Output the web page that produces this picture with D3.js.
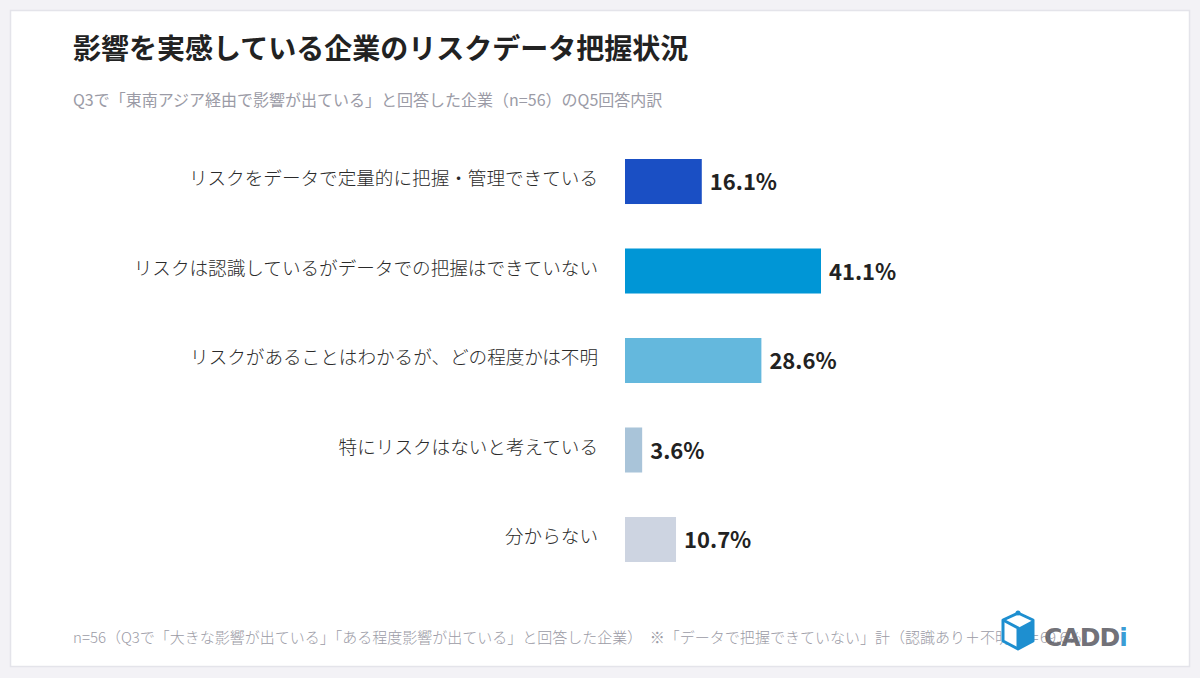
<!DOCTYPE html>
<html><head><meta charset="utf-8">
<script src="https://cdn.jsdelivr.net/npm/d3@7"></script>
<style>
html,body{margin:0;padding:0;background:#f3f2f6;}
svg{display:block;font-family:"Noto Sans CJK JP","Noto Sans",sans-serif;}
</style></head><body>
<svg id="c" width="1200" height="678"></svg>
<script>
const categories = [
  "リスクをデータで定量的に把握・管理できている",
  "リスクは認識しているがデータでの把握はできていない",
  "リスクがあることはわかるが、どの程度かは不明",
  "特にリスクはないと考えている",
  "分からない"
];
const values = [16.1, 41.1, 28.6, 3.6, 10.7];
const colors = ["#1a4fc4", "#0096d6", "#64b8dd", "#a9c4d9", "#cdd4e1"];
const title = "影響を実感している企業のリスクデータ把握状況";
const subtitle = "Q3で「東南アジア経由で影響が出ている」と回答した企業（n=56）のQ5回答内訳";
const footnote = "n=56（Q3で「大きな影響が出ている」「ある程度影響が出ている」と回答した企業）　※「データで把握できていない」計（認識あり＋不明）＝69.6%";

const svg = d3.select("#c");
svg.append("rect").attr("x",10.5).attr("y",10.5).attr("width",1179).attr("height",656)
  .attr("fill","#fff").attr("stroke","#e4e4ea").attr("stroke-width",1.5);

svg.append("text").attr("x",73).attr("y",59).attr("font-size",28).attr("font-weight",700)
  .attr("fill","#222").text(title);
svg.append("text").attr("x",73).attr("y",106).attr("font-size",16).attr("fill","#9b9ba6").text(subtitle);

const x = d3.scaleLinear().domain([0,41.1]).range([625,821]);
const y = d3.scaleBand().domain(categories).range([159,562]).paddingInner(0.497).paddingOuter(0);

const g = svg.append("g");
categories.forEach((c,i)=>{
  const yy = y(c), h = y.bandwidth();
  g.append("rect").attr("x",x(0)).attr("y",yy).attr("width",x(values[i])-x(0)).attr("height",h).attr("fill",colors[i]);
  g.append("text").attr("x",598).attr("y",yy+h/2-3).attr("dy","0.35em").attr("text-anchor","end")
    .attr("font-size",18.6).attr("font-weight",300).attr("fill","#2a2a2a").text(c);
  g.append("text").attr("x",x(values[i])+8).attr("y",yy+h/2+1).attr("dy","0.35em")
    .attr("font-size",22).attr("font-weight",700).attr("fill","#222").text(values[i].toFixed(1)+"%");
});

svg.append("text").attr("x",73).attr("y",643).attr("font-size",15).attr("font-weight",300).attr("fill","#9b9ba6").text(footnote);

// logo
const lg = svg.append("g").attr("transform","translate(1000,610)");
lg.append("path").attr("d","M3,10 L18,3 L33,10 L33,31 L18,39 L3,31 Z").attr("fill","#fff").attr("stroke","#1e8fd0").attr("stroke-width",3).attr("stroke-linejoin","round");
lg.append("path").attr("d","M18,18 L33,10 L33,31 L18,39 Z").attr("fill","#1e8fd0");
lg.append("path").attr("d","M3,10 L18,18 L18,39").attr("fill","none").attr("stroke","#1e8fd0").attr("stroke-width",3);
lg.append("circle").attr("cx",18).attr("cy",3).attr("r",2.5).attr("fill","#1e8fd0");
lg.append("text").attr("x",44).attr("y",36).attr("font-family","DejaVu Sans, sans-serif").attr("font-size",25).attr("font-weight",700)
  .attr("letter-spacing",-1).attr("fill","#5e5e66").attr("fill-opacity",0.9).text("CADD")
  .append("tspan").attr("fill","#1e8fd0").text("i");
</script>
</body></html>
